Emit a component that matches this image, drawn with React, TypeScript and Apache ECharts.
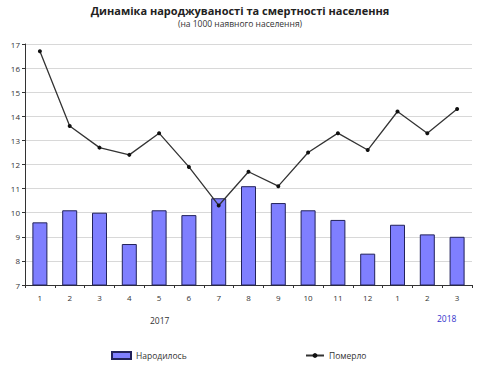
import React, { useEffect, useRef } from "react";
import * as echarts from "echarts";

const months = ["1", "2", "3", "4", "5", "6", "7", "8", "9", "10", "11", "12", "1", "2", "3"];
const born = [9.6, 10.1, 10.0, 8.7, 10.1, 9.9, 10.6, 11.1, 10.4, 10.1, 9.7, 8.3, 9.5, 9.1, 9.0];
const died = [16.7, 13.6, 12.7, 12.4, 13.3, 11.9, 10.3, 11.7, 11.1, 12.5, 13.3, 12.6, 14.2, 13.3, 14.3];
const titleText = "Динаміка народжуваності та смертності населення";
const subText = "(на 1000 наявного населення)";
const bornName = "Народилось";
const diedName = "Померло";

const FONT = "'Open Sans', 'Liberation Sans', sans-serif";

export default function App() {
  const ref = useRef<HTMLDivElement>(null);
  useEffect(() => {
    const chart = echarts.init(ref.current!, null, { renderer: "svg" });
    chart.setOption({
      animation: false,
      backgroundColor: "#fff",
      textStyle: { fontFamily: FONT },
      title: {
        text: titleText,
        subtext: subText,
        left: "center",
        top: 0,
        itemGap: 3,
        textStyle: { fontSize: 11, fontWeight: "bold", color: "#222", fontFamily: FONT },
        subtextStyle: { fontSize: 8.5, color: "#333", fontFamily: FONT },
      },
      grid: { left: 25, right: 8, top: 44, bottom: 83 },
      legend: [
        {
          data: [{ name: bornName, icon: "rect" }],
          left: 106,
          top: 346,
          itemWidth: 19,
          itemHeight: 7,
          itemGap: 3,
          textStyle: { fontSize: 8.5, color: "#333", fontFamily: FONT },
        },
        {
          data: [diedName],
          left: 300,
          top: 346,
          itemWidth: 18,
          itemHeight: 6,
          textStyle: { fontSize: 8.5, color: "#333", fontFamily: FONT },
        },
      ],
      xAxis: {
        type: "category",
        data: months,
        axisLine: { lineStyle: { color: "#333", width: 1 } },
        axisTick: { show: true, length: 3, lineStyle: { color: "#333" } },
        axisLabel: { fontSize: 8, color: "#333", margin: 8 },
      },
      yAxis: {
        type: "value",
        min: 7,
        max: 17,
        interval: 1,
        axisLine: { show: true, lineStyle: { color: "#333", width: 1 } },
        axisTick: { show: true, length: 3, inside: false, lineStyle: { color: "#333" } },
        axisLabel: { fontSize: 8, color: "#333", margin: 5 },
        splitLine: { lineStyle: { color: "#d8d8d8" } },
      },
      graphic: [
        { type: "text", left: 150, top: 316, style: { text: "2017", fontSize: 8.5, fill: "#333", fontFamily: FONT } },
        { type: "text", left: 437, top: 314, style: { text: "2018", fontSize: 8.5, fill: "#3333cc", fontFamily: FONT } },
      ],
      series: [
        {
          name: bornName,
          type: "bar",
          data: born,
          barWidth: 15,
          itemStyle: { color: "#7f7fff", borderColor: "#22225a", borderWidth: 1 },
        },
        {
          name: diedName,
          type: "line",
          data: died,
          symbol: "circle",
          symbolSize: 4,
          lineStyle: { color: "#333", width: 1.3 },
          itemStyle: { color: "#111" },
        },
      ],
    });
    return () => chart.dispose();
  }, []);
  return <div ref={ref} style={{ width: 480, height: 368, position: "absolute", left: 0, top: 0 }} />;
}
